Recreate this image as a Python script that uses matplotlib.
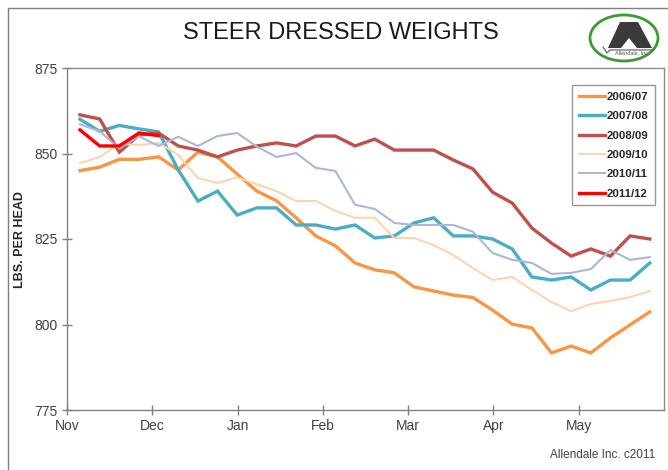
import numpy as np
import matplotlib
matplotlib.use("Agg")
import matplotlib.pyplot as plt
from matplotlib.patches import Ellipse, Polygon, Rectangle

plt.rcParams['font.family'] = ['Liberation Sans', 'DejaVu Sans']

# weekly steer dressed weights, lbs per head (week 1 = first week of Nov)
w_2006 = [845.0, 846.0, 848.3, 848.3, 849.0, 845.2, 850.4, 849.0, 844.0, 839.0,
          836.2, 831.2, 825.9, 823.0, 818.0, 816.0, 815.1, 811.0, 809.8, 808.6,
          807.9, 804.2, 800.1, 799.0, 791.7, 793.7, 791.7, 796.1, 799.9, 803.7]
w_2007 = [860.0, 856.5, 858.2, 857.2, 856.3, 845.2, 836.1, 839.0, 832.0, 834.1,
          834.1, 829.1, 829.1, 827.9, 829.1, 825.3, 825.9, 829.7, 831.2, 825.9,
          825.9, 825.0, 822.1, 813.9, 813.0, 813.9, 810.1, 813.0, 813.0, 818.0]
w_2008 = [861.3, 860.1, 850.4, 855.4, 856.0, 852.2, 851.0, 849.0, 851.0, 852.2,
          853.1, 852.2, 855.1, 855.1, 852.2, 854.2, 851.0, 851.0, 851.0, 848.1,
          845.5, 838.7, 835.5, 828.2, 823.8, 820.0, 822.1, 820.0, 825.9, 825.0]
w_2009 = [847.2, 849.0, 852.8, 852.5, 853.1, 849.6, 842.8, 841.4, 843.0, 841.0,
          839.0, 836.1, 836.1, 833.2, 831.2, 831.2, 825.3, 825.3, 823.2, 820.3,
          816.5, 813.0, 813.9, 810.1, 806.6, 803.9, 806.0, 806.9, 808.0, 809.8]
w_2010 = [858.5, 856.5, 851.5, 855.0, 852.2, 854.9, 852.2, 855.1, 856.0, 852.0,
          849.0, 850.1, 845.8, 844.9, 835.0, 833.8, 829.7, 829.1, 829.1, 829.1,
          827.1, 820.9, 818.9, 818.0, 814.8, 815.1, 816.2, 821.8, 818.9, 819.7]
w_2011 = [856.9, 852.2, 852.2, 856.0, 855.2]

seasons = ['2006/07', '2007/08', '2008/09', '2009/10', '2010/11', '2011/12']
series = [w_2006, w_2007, w_2008, w_2009, w_2010, w_2011]
colors = ['#F79646', '#4BACC6', '#C0504D', '#FCD5B0', '#A9B8D6', '#FF0000']
widths = [2.4, 2.4, 2.4, 1.5, 1.5, 2.4]

months = ['Nov', 'Dec', 'Jan', 'Feb', 'Mar', 'Apr', 'May']
weeks_per_month = 4.341
nov_start = -0.662  # first week sits a little after the Nov tick

fig = plt.figure(figsize=(6.68, 4.70), dpi=100)
fig.patch.set_facecolor('white')
ax = fig.add_axes([67 / 668, 1 - 410 / 470, 597 / 668, 342 / 470])

for name, vals, c, lw in zip(seasons, series, colors, widths):
    ax.plot(np.arange(len(vals)), vals, color=c, lw=lw, label=name,
            solid_joinstyle='miter')

ax.set_ylim(775, 875)
ax.set_yticks([775, 800, 825, 850, 875])
tick_pos = nov_start + weeks_per_month * np.arange(len(months))
ax.set_xlim(nov_start, nov_start + weeks_per_month * 7)
ax.set_xticks(tick_pos)
ax.set_xticklabels(months)
ax.tick_params(direction='inout', length=7, width=1, color='#808080',
               labelsize=10, labelcolor='#404040', pad=3)
for s in ax.spines.values():
    s.set_color('#8c8c8c')
    s.set_linewidth(1)
ax.spines['left'].set_color('#808080')
ax.spines['bottom'].set_color('#808080')

ax.set_ylabel('LBS. PER HEAD', fontsize=9, fontweight='bold', color='#262626',
              labelpad=6)

leg = ax.legend(loc='upper right', bbox_to_anchor=(655 / 668, 1 - 85 / 470),
                bbox_transform=fig.transFigure, frameon=True, fancybox=False,
                borderaxespad=0, handlelength=2.3, handletextpad=0.1,
                labelspacing=0.82, borderpad=0.6, prop={'size': 8.2, 'weight': 'bold'})
leg.get_frame().set_edgecolor('#7f7f7f')
leg.get_frame().set_linewidth(1)
for t in leg.get_texts():
    t.set_color('#262626')

fig.text(341 / 668, 1 - 33 / 470, 'STEER DRESSED WEIGHTS', fontsize=17,
         ha='center', va='center', color='#1a1a1a')
fig.text(655 / 668, 1 - 455 / 470, 'Allendale Inc. c2011', fontsize=8.5,
         ha='right', va='center', color='#404040')

# outer chart border
fig.patches.append(Rectangle((8 / 668, -0.1), 1.2, 1 - 8 / 470 + 0.1,
                             transform=fig.transFigure, fill=False,
                             edgecolor='#7f7f7f', lw=1))

# logo
def fp(x, y):
    return (x / 668, 1 - y / 470)

fig.patches.append(Ellipse(fp(624, 38), 68 / 668, 46 / 470, transform=fig.transFigure,
                           fill=False, edgecolor='#3b9a35', lw=2))
fig.patches.append(Polygon([fp(620, 22), fp(638, 22), fp(652, 48), fp(637, 48),
                            fp(629, 38), fp(621, 48), fp(608, 48)],
                           closed=True, transform=fig.transFigure,
                           facecolor='#3a3a3a', edgecolor='none'))
fig.lines.append(plt.Line2D([603 / 668, 607 / 668, 610 / 668, 652 / 668],
                            [1 - 47 / 470, 1 - 53 / 470, 1 - 50 / 470, 1 - 50 / 470],
                            transform=fig.transFigure, color='#555555', lw=0.8))
fig.text(632 / 668, 1 - 53 / 470, 'Allendale, Inc.', fontsize=4, ha='center',
         va='center', color='#555555')

fig.savefig('out.png', dpi=100)
